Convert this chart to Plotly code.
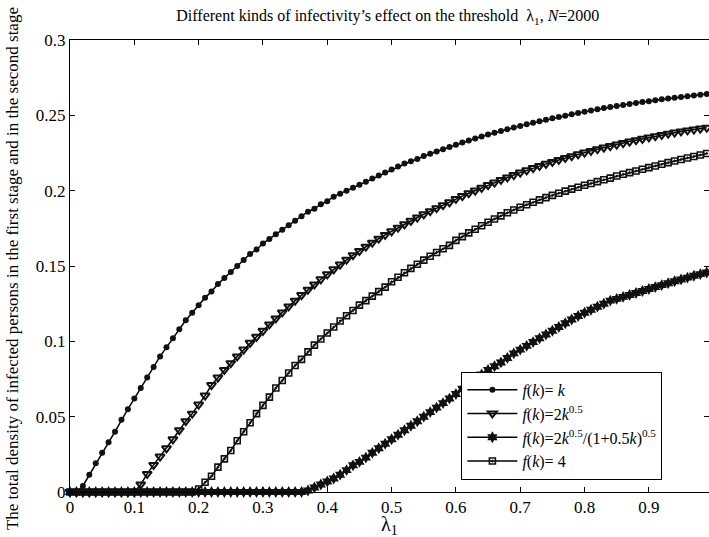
import plotly.graph_objects as go

lam = [round(i * 0.01, 2) for i in range(100)]

y_k = [0.0, 0.0, 0.004, 0.0115, 0.019, 0.026, 0.033, 0.040, 0.048, 0.055,
       0.062, 0.069, 0.076, 0.083, 0.090, 0.096, 0.102, 0.108, 0.114, 0.119,
       0.124, 0.129, 0.133, 0.138, 0.142, 0.146, 0.150, 0.154, 0.158, 0.161,
       0.165, 0.168, 0.171, 0.174, 0.177, 0.180, 0.183, 0.186, 0.188, 0.191,
       0.193, 0.196, 0.198, 0.200, 0.202, 0.204, 0.206, 0.208, 0.210, 0.212,
       0.214, 0.216, 0.218, 0.2195, 0.221, 0.223, 0.2245, 0.226, 0.2275, 0.229,
       0.2305, 0.232, 0.2333, 0.2346, 0.2359, 0.2372, 0.2384, 0.2396, 0.2408, 0.2419,
       0.243, 0.244, 0.245, 0.246, 0.247, 0.248, 0.2489, 0.2498, 0.2507, 0.2516,
       0.2524, 0.2532, 0.254, 0.2548, 0.2555, 0.2562, 0.2569, 0.2576, 0.2582, 0.2588,
       0.2594, 0.26, 0.2606, 0.2612, 0.2617, 0.2622, 0.2627, 0.2632, 0.2637, 0.2642]

y_2k05 = [0.0] * 11 + [
       0.005, 0.012, 0.018, 0.0235, 0.029, 0.035, 0.041, 0.047, 0.052,
       0.058, 0.064, 0.071, 0.076, 0.081, 0.0855, 0.090, 0.0945, 0.099, 0.103,
       0.107, 0.1112, 0.1152, 0.1192, 0.1232, 0.127, 0.1307, 0.1343, 0.1378, 0.1412,
       0.1445, 0.1478, 0.151, 0.1542, 0.1572, 0.160, 0.1628, 0.1655, 0.1681, 0.1706,
       0.173, 0.1754, 0.1777, 0.180, 0.1822, 0.1843, 0.1864, 0.1884, 0.1904, 0.1923,
       0.1945, 0.1964, 0.1983, 0.2001, 0.2019, 0.2037, 0.2054, 0.2071, 0.2088, 0.2104,
       0.212, 0.2135, 0.215, 0.2164, 0.2178, 0.2191, 0.2204, 0.2217, 0.2229, 0.2241,
       0.2253, 0.2264, 0.2275, 0.2286, 0.2296, 0.2306, 0.2316, 0.2326, 0.2335, 0.2344,
       0.2353, 0.2362, 0.237, 0.2378, 0.2386, 0.2393, 0.24, 0.2406, 0.2412, 0.2418]

y_sat = [0.0] * 37 + [
       0.001, 0.003, 0.005,
       0.007, 0.009, 0.0115, 0.0145, 0.0177, 0.020, 0.0228, 0.026, 0.029, 0.032,
       0.035, 0.038, 0.041, 0.044, 0.047, 0.050, 0.053, 0.056, 0.059, 0.062,
       0.065, 0.0685, 0.072, 0.075, 0.078, 0.081, 0.0835, 0.086, 0.089, 0.092,
       0.0945, 0.097, 0.0995, 0.102, 0.1045, 0.107, 0.1095, 0.112, 0.1145, 0.1168,
       0.119, 0.121, 0.123, 0.125, 0.127, 0.1282, 0.1295, 0.1308, 0.1321, 0.1334,
       0.1347, 0.136, 0.1373, 0.1386, 0.1399, 0.1411, 0.1423, 0.1435, 0.1446, 0.1457]

y_4 = [0.0] * 20 + [
       0.002, 0.0065, 0.0105, 0.0165, 0.022, 0.0275, 0.034, 0.040, 0.046, 0.052,
       0.0575, 0.063, 0.069, 0.074, 0.079, 0.084, 0.088, 0.093, 0.0975, 0.1015,
       0.1055, 0.1095, 0.1135, 0.117, 0.1205, 0.124, 0.127, 0.130, 0.133, 0.136,
       0.1395, 0.1425, 0.1455, 0.1484, 0.1512, 0.1539, 0.1565, 0.159, 0.1614, 0.1637,
       0.167, 0.1695, 0.172, 0.1744, 0.1767, 0.179, 0.1812, 0.1833, 0.1853, 0.1872,
       0.189, 0.1907, 0.1923, 0.1939, 0.1954, 0.1969, 0.1983, 0.1997, 0.201, 0.2023,
       0.2036, 0.2048, 0.206, 0.2072, 0.2083, 0.2097, 0.2109, 0.212, 0.2131, 0.2142,
       0.2153, 0.2164, 0.2175, 0.2186, 0.2197, 0.2207, 0.2217, 0.2227, 0.2237, 0.2247]

x_ticks = [0, 0.1, 0.2, 0.3, 0.4, 0.5, 0.6, 0.7, 0.8, 0.9]
x_tick_labels = ["0", "0.1", "0.2", "0.3", "0.4", "0.5", "0.6", "0.7", "0.8", "0.9"]
y_ticks = [0, 0.05, 0.1, 0.15, 0.2, 0.25, 0.3]
y_tick_labels = ["0", "0.05", "0.1", "0.15", "0.2", "0.25", "0.3"]

names = [
    "<i>f</i>(<i>k</i>)= <i>k</i>",
    "<i>f</i>(<i>k</i>)=2<i>k</i><sup>0.5</sup>",
    "<i>f</i>(<i>k</i>)=2<i>k</i><sup>0.5</sup>/(1+0.5<i>k</i>)<sup>0.5</sup>",
    "<i>f</i>(<i>k</i>)= 4",
]

SERIF = "Liberation Serif"

fig = go.Figure()
fig.add_trace(go.Scatter(x=lam, y=y_k, name=names[0], mode="lines+markers",
                         line=dict(color="black", width=1.5),
                         marker=dict(symbol="circle", size=6, color="#111"),
                         cliponaxis=False))
fig.add_trace(go.Scatter(x=lam, y=y_2k05, name=names[1], mode="lines+markers",
                         line=dict(color="black", width=1.5),
                         marker=dict(symbol="triangle-down-open", size=8, color="#111",
                                     line=dict(width=2)),
                         cliponaxis=False))
fig.add_trace(go.Scatter(x=lam, y=y_sat, name=names[2], mode="lines+markers",
                         line=dict(color="black", width=1.5),
                         marker=dict(symbol="hexagram", size=9, color="#111"),
                         cliponaxis=False))
fig.add_trace(go.Scatter(x=lam, y=y_4, name=names[3], mode="lines+markers",
                         line=dict(color="black", width=1.5),
                         marker=dict(symbol="square-open-dot", size=6, color="#111",
                                     line=dict(width=1.6)),
                         cliponaxis=False))

fig.update_layout(
    width=709, height=537,
    margin=dict(l=70, r=0, t=40, b=45),
    paper_bgcolor="white", plot_bgcolor="white",
    font=dict(family=SERIF, color="black", size=16),
    title=dict(
        text="Different kinds of infectivity\u2019s effect on the threshold \u00a0\u03bb<sub>1</sub>, <i>N</i>=2000",
        x=0.547, xanchor="center", y=0.981, yanchor="top",
        font=dict(family=SERIF, size=16, color="black"),
    ),
    showlegend=True,
    legend=dict(
        x=0.6125, xanchor="left", y=0.266, yanchor="top",
        bgcolor="white", bordercolor="black", borderwidth=1,
        font=dict(family=SERIF, size=16, color="black"),
        itemwidth=50,
    ),
    annotations=[
        dict(text="\u03bb<sub>1</sub>", xref="paper", yref="paper", x=0.5, y=-0.107,
             xanchor="center", yanchor="bottom", showarrow=False,
             font=dict(family=SERIF, size=20, color="black")),
        dict(text="The total density of infected persons in the first stage and in the second stage",
             xref="paper", yref="paper", x=-0.091, y=0.495, xanchor="center", yanchor="middle",
             textangle=-90, showarrow=False,
             font=dict(family=SERIF, size=17, color="black")),
    ],
)

fig.update_xaxes(
    range=[0, 0.9935], tickmode="array", tickvals=x_ticks, ticktext=x_tick_labels,
    showgrid=False, zeroline=False, showline=True, linecolor="black", linewidth=1,
    mirror="ticks", ticks="inside", ticklen=5, tickcolor="black",
    tickfont=dict(family=SERIF, size=17), automargin=False,
)
fig.update_yaxes(
    range=[0, 0.3], tickmode="array", tickvals=y_ticks, ticktext=y_tick_labels,
    showgrid=False, zeroline=False, showline=True, linecolor="black", linewidth=1,
    mirror="ticks", ticks="inside", ticklen=5, tickcolor="black",
    tickfont=dict(family=SERIF, size=17), automargin=False,
)

fig.write_html("out.html", config={"displayModeBar": False},
               post_script="document.body.style.margin='0';document.body.style.overflow='hidden';")
